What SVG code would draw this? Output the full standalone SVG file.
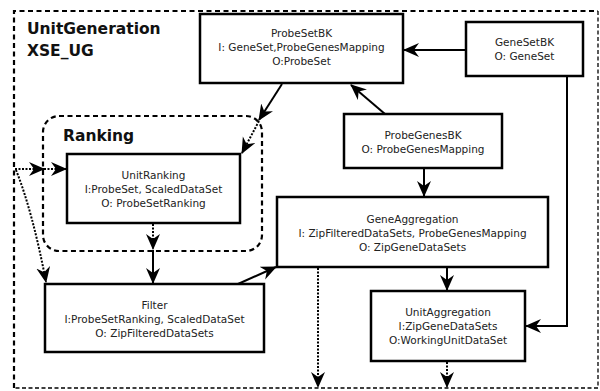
<svg xmlns="http://www.w3.org/2000/svg" width="600" height="391" viewBox="0 0 600 391">
<defs>
<style>
.box{fill:#fff;stroke:#000;stroke-width:2.5}
.t{font-family:"DejaVu Sans","Liberation Sans",sans-serif;font-size:10.5px;fill:#222;text-anchor:middle}
.title{font-family:"DejaVu Sans","Liberation Sans",sans-serif;font-size:15.5px;font-weight:bold;fill:#111}
.solid{fill:none;stroke:#000;stroke-width:2}
.dot{fill:none;stroke:#000;stroke-width:2;stroke-dasharray:2 1.5}
.cl{fill:none;stroke:#000;stroke-width:2.2;stroke-dasharray:5 3.5}
</style>
<marker id="ah" markerUnits="userSpaceOnUse" markerWidth="18" markerHeight="16" refX="15" refY="7" orient="auto">
<path d="M0,0 L16,7 L0,14 L5,7 z" fill="#000"/>
</marker>
</defs>
<rect width="600" height="391" fill="#fff"/>
<g id="cluster-UnitGeneration">
<path d="M14,388 L14,11 L598,11" class="cl" stroke-width="2.5"/>
<path d="M598,11 L598,388 L14,388" fill="none" stroke="#000" stroke-width="1.3" stroke-dasharray="4 2.5"/>
<text class="title" x="27" y="34">UnitGeneration</text>
<text class="title" x="27" y="56">XSE_UG</text>
</g>
<g id="cluster-Ranking">
<rect x="43" y="116" width="219" height="135" rx="16" class="cl"/>
<text class="title" x="63" y="141">Ranking</text>
</g>
<g id="connectors">
<line x1="466" y1="50" x2="404" y2="50" class="solid" marker-end="url(#ah)"/>
<line x1="385" y1="114" x2="351" y2="85" class="solid" marker-end="url(#ah)"/>
<line x1="282" y1="84" x2="259" y2="120" class="solid" marker-end="url(#ah)"/>
<line x1="259" y1="121" x2="242" y2="153" class="dot" marker-end="url(#ah)"/>
<line x1="15" y1="169" x2="44" y2="169" class="dot" marker-end="url(#ah)"/>
<line x1="44" y1="169" x2="66" y2="169" class="dot" marker-end="url(#ah)"/>
<path d="M16,170 C28,200 38,240 46,282" class="dot" marker-end="url(#ah)"/>
<line x1="153" y1="224" x2="153" y2="249" class="dot" marker-end="url(#ah)"/>
<line x1="153" y1="250" x2="153" y2="283" class="solid" marker-end="url(#ah)"/>
<line x1="238" y1="284" x2="276" y2="267" class="solid" marker-end="url(#ah)"/>
<line x1="424" y1="169" x2="424" y2="196" class="solid" marker-end="url(#ah)"/>
<line x1="447" y1="268" x2="447" y2="290" class="solid" marker-end="url(#ah)"/>
<path d="M567,77 L567,326 L526,326" class="solid" marker-end="url(#ah)"/>
<line x1="318" y1="268" x2="318" y2="387" class="dot" marker-end="url(#ah)"/>
<line x1="447" y1="362" x2="447" y2="387" class="dot" marker-end="url(#ah)"/>
</g>
<g id="ProbeSetBK">
<rect x="200" y="14" width="203" height="69" class="box"/>
<text class="t" x="301.5" y="37">ProbeSetBK</text>
<text class="t" x="301.5" y="51">I: GeneSet,ProbeGenesMapping</text>
<text class="t" x="301.5" y="65">O:ProbeSet</text>
</g>
<g id="GeneSetBK">
<rect x="466" y="22" width="117" height="54" class="box"/>
<text class="t" x="524.5" y="46">GeneSetBK</text>
<text class="t" x="524.5" y="60">O: GeneSet</text>
</g>
<g id="ProbeGenesBK">
<rect x="344" y="114" width="158" height="54" class="box"/>
<text class="t" x="423" y="139">ProbeGenesBK</text>
<text class="t" x="423" y="153">O: ProbeGenesMapping</text>
</g>
<g id="UnitRanking">
<rect x="67" y="154" width="173" height="69" class="box"/>
<text class="t" x="153.5" y="179">UnitRanking</text>
<text class="t" x="153.5" y="193">I:ProbeSet, ScaledDataSet</text>
<text class="t" x="153.5" y="207">O: ProbeSetRanking</text>
</g>
<g id="Filter">
<rect x="45" y="284" width="219" height="68" class="box"/>
<text class="t" x="154.5" y="309">Filter</text>
<text class="t" x="154.5" y="323">I:ProbeSetRanking, ScaledDataSet</text>
<text class="t" x="154.5" y="337">O: ZipFilteredDataSets</text>
</g>
<g id="GeneAggregation">
<rect x="277" y="197" width="271" height="70" class="box"/>
<text class="t" x="412.5" y="223">GeneAggregation</text>
<text class="t" x="412.5" y="237">I: ZipFilteredDataSets, ProbeGenesMapping</text>
<text class="t" x="412.5" y="251">O: ZipGeneDataSets</text>
</g>
<g id="UnitAggregation">
<rect x="371" y="291" width="154" height="70" class="box"/>
<text class="t" x="448" y="316">UnitAggregation</text>
<text class="t" x="448" y="330">I:ZipGeneDataSets</text>
<text class="t" x="448" y="344">O:WorkingUnitDataSet</text>
</g>
</svg>
